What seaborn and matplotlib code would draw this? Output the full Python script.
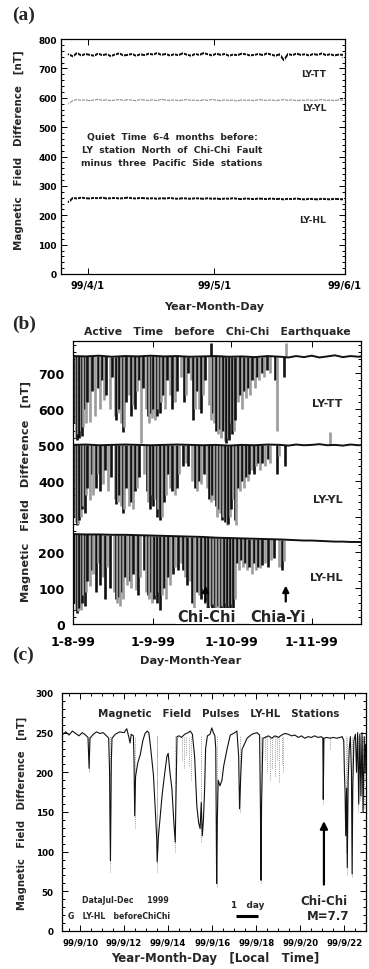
import numpy as np
import matplotlib
matplotlib.use("Agg")
import matplotlib.pyplot as plt
import seaborn as sns
from matplotlib.ticker import MultipleLocator, FixedLocator

# ---------------------------------------------------------------- data
# Panel (a): quiet time, daily samples, days relative to 1999-04-01
a_first_day = -4.5
a_tt = [748, 741, 752, 744, 749, 746, 743, 750, 745, 748,
        742, 747, 751, 744, 746, 749, 743, 748, 745, 750,
        747, 752, 746, 749, 744, 748, 745, 751, 747, 743,
        749, 746, 752, 748, 744, 750, 746, 749, 743, 747,
        745, 750, 748, 744, 746, 749, 745, 751, 747, 743,
        748, 728, 749, 745, 750, 746, 748, 744, 749, 746,
        751, 745, 748, 744, 747, 746]
a_yl = [580, 590, 594, 591, 593, 590, 592, 595, 591, 593,
        590, 592, 594, 591, 593, 592, 590, 594, 592, 591,
        593, 590, 595, 592, 591, 593, 590, 592, 594, 591,
        592, 590, 593, 591, 594, 592, 590, 593, 591, 592,
        589, 593, 591, 592, 590, 594, 592, 591, 593, 590,
        592, 594, 591, 593, 590, 592, 591, 593, 590, 592,
        594, 591, 592, 590, 593, 591]
a_hl = [245, 259, 257, 260, 258, 257, 259, 258, 260, 257,
        258, 259, 257, 258, 260, 258, 257, 259, 258, 257,
        258, 256, 258, 257, 259, 257, 256, 258, 257, 256,
        258, 257, 256, 258, 256, 257, 255, 257, 256, 258,
        256, 255, 257, 256, 255, 257, 256, 255, 257, 255,
        256, 254, 256, 255, 257, 255, 254, 256, 255, 254,
        256, 255, 254, 256, 255, 254]
a_tick_days = [0, 30, 61]
a_tick_labels = ["99/4/1", "99/5/1", "99/6/1"]
a_stations = ["LY-TT", "LY-YL", "LY-HL"]
a_note = ["Quiet  Time  6-4  months  before:",
          "LY  station  North  of  Chi-Chi  Fault",
          "minus  three  Pacific  Side  stations"]

# Panel (b): active time, days relative to 1999-08-01
b_base_days = [0, 5, 10, 15, 20, 25, 30, 35, 40, 45, 50, 55, 60, 65, 70, 75,
               80, 83, 86, 89, 92, 95, 98, 101, 104, 107, 110, 112]
b_tt_base = [748, 747, 749, 746, 748, 747, 749, 747, 748, 746, 747, 748, 746, 747,
             745, 748, 746, 744, 748, 745, 749, 744, 747, 750, 745, 748, 746, 748]
b_yl_base = [500, 501, 499, 500, 501, 500, 499, 500, 501, 500, 499, 500, 498, 500,
             499, 501, 500, 498, 501, 499, 500, 502, 499, 500, 498, 501, 499, 500]
b_hl_base = [251, 250, 250, 249, 249, 248, 247, 246, 245, 244, 243, 241, 240, 239,
             238, 237, 236, 235, 234, 233, 233, 232, 231, 230, 230, 229, 229, 228]
# pulses: (day, extreme value)
b_tt_pulses = [(0.6, 560), (1.0, 520), (1.5, 515), (2.0, 530), (2.5, 520), (3.0, 540),
               (3.5, 525), (4.0, 550), (4.5, 600), (5.0, 560), (5.5, 620), (6.5, 565),
               (7.5, 650), (8.5, 580), (9.5, 660), (10.3, 600), (11.2, 680), (12.0, 625),
               (12.8, 640), (14.2, 600), (15.0, 690), (16.0, 580), (16.6, 570), (17.2, 590),
               (17.8, 600), (18.5, 560), (19.2, 535), (19.8, 550), (20.5, 620), (21.5, 640),
               (22.2, 580), (23.0, 610), (23.8, 600), (24.8, 650), (25.5, 680), (26.3, 505),
               (27.0, 660), (28.2, 600), (28.8, 580), (29.4, 560), (30.0, 590), (30.5, 575),
               (31.0, 600), (31.6, 570), (32.2, 580), (32.8, 600), (33.4, 590), (34.0, 620),
               (34.8, 640), (35.6, 600), (36.3, 680), (37.5, 640), (38.3, 600), (39.2, 620),
               (40.0, 650), (41.5, 690), (42.7, 620), (43.5, 640), (44.5, 700), (45.5, 680),
               (46.3, 570), (47.0, 600), (47.8, 650), (48.6, 600), (49.3, 590), (50.0, 640),
               (51.0, 680), (52.5, 610), (53.0, 785), (53.2, 570), (53.8, 590), (54.5, 560),
               (55.3, 540), (56.0, 530), (56.6, 545), (57.2, 520), (57.8, 540), (58.4, 510),
               (59.0, 505), (59.6, 520), (60.2, 515), (60.8, 560), (61.4, 530), (62.0, 540),
               (62.6, 570), (63.5, 620), (64.5, 640), (65.3, 600), (66.0, 650), (66.8, 630),
               (67.5, 660), (68.3, 640), (69.0, 680), (70.0, 660), (70.8, 690), (71.8, 680),
               (72.8, 700), (73.8, 690), (74.8, 710), (75.8, 700), (78.0, 680), (78.8, 540),
               (81.5, 690), (82.0, 785)]
b_yl_pulses = [(0.6, 300), (1.0, 285), (1.5, 275), (2.0, 280), (2.5, 290), (3.0, 300),
               (3.5, 320), (4.0, 330), (4.5, 310), (5.0, 360), (5.5, 380), (6.5, 345),
               (7.2, 420), (7.8, 360), (9.0, 380), (9.8, 420), (10.5, 370), (11.6, 390),
               (12.5, 430), (13.5, 370), (14.5, 410), (16.0, 350), (16.6, 335), (17.2, 340),
               (17.8, 360), (18.5, 330), (19.2, 310), (19.8, 320), (20.5, 380), (21.5, 330),
               (22.2, 340), (23.0, 320), (23.8, 370), (24.6, 380), (25.5, 410), (27.5, 420),
               (28.4, 370), (29.0, 340), (29.7, 320), (30.3, 360), (31.0, 330), (31.6, 350),
               (32.2, 300), (32.8, 320), (33.6, 290), (34.2, 300), (35.0, 340), (35.8, 360),
               (36.5, 420), (37.5, 380), (38.3, 370), (39.2, 360), (40.1, 380), (41.0, 420),
               (42.5, 440), (43.4, 450), (44.5, 440), (46.0, 400), (47.0, 380), (47.8, 370),
               (48.6, 400), (49.4, 390), (50.4, 420), (51.5, 380), (52.3, 350), (53.0, 340),
               (53.7, 360), (54.4, 345), (55.0, 330), (55.6, 300), (56.2, 320), (56.8, 310),
               (57.4, 290), (58.0, 300), (58.6, 285), (59.2, 275), (59.8, 280), (60.4, 300),
               (61.0, 320), (61.6, 350), (62.3, 290), (62.8, 275), (63.5, 380), (64.3, 370),
               (65.0, 400), (65.8, 380), (66.6, 410), (67.3, 400), (68.0, 420), (68.8, 430),
               (69.6, 420), (70.4, 440), (71.2, 450), (72.0, 430), (73.0, 450), (74.0, 440),
               (75.0, 460), (76.0, 450), (78.5, 420), (79.5, 470), (81.8, 440), (99.0, 535)]
b_hl_pulses = [(0.5, 60), (1.0, 40), (1.5, 30), (2.0, 35), (2.5, 45), (3.0, 40),
               (3.5, 60), (4.0, 80), (4.5, 50), (5.0, 90), (5.5, 120), (6.5, 105),
               (7.2, 150), (7.8, 140), (8.8, 90), (9.8, 170), (10.5, 110), (11.4, 130),
               (12.2, 70), (13.0, 160), (14.2, 100), (15.8, 90), (16.4, 70), (17.0, 60),
               (17.6, 75), (18.2, 50), (18.8, 90), (19.4, 70), (20.2, 130), (21.0, 110),
               (21.8, 120), (22.5, 100), (23.3, 140), (24.3, 95), (25.0, 80), (25.8, 130),
               (27.2, 150), (28.2, 90), (28.8, 80), (29.4, 70), (30.0, 90), (30.6, 60),
               (31.2, 70), (31.8, 80), (32.4, 60), (33.0, 90), (33.6, 40), (34.2, 80),
               (35.0, 100), (35.8, 70), (36.5, 130), (37.5, 110), (38.5, 140), (39.5, 160),
               (40.5, 150), (41.5, 170), (42.5, 150), (43.2, 130), (44.0, 110), (45.0, 120),
               (46.0, 60), (46.8, 40), (47.6, 90), (48.4, 80), (49.2, 70), (50.0, 100),
               (51.0, 60), (51.6, 40), (52.2, 30), (52.8, 50), (53.4, 40), (54.0, 55),
               (54.6, 45), (55.2, 30), (55.8, 50), (56.4, 40), (57.0, 35), (57.6, 50),
               (58.2, 40), (58.8, 60), (59.4, 45), (60.0, 50), (60.6, 40), (61.2, 55),
               (61.8, 45), (62.4, 70), (63.2, 170), (64.0, 150), (64.8, 180), (65.6, 160),
               (66.4, 170), (67.2, 150), (68.0, 160), (68.8, 140), (69.6, 170), (70.4, 150),
               (71.2, 160), (72.0, 155), (73.0, 165), (74.0, 170), (75.0, 160), (76.5, 180),
               (77.5, 185), (79.5, 160), (80.5, 150), (81.2, 175)]
b_tick_days = [0, 31, 61, 92]
b_tick_labels = ["1-8-99", "1-9-99", "1-10-99", "1-11-99"]
b_events = ["Chi-Chi", "Chia-Yi"]
b_event_days = [51.07, 82.0]
b_stations = ["LY-TT", "LY-YL", "LY-HL"]

# Panel (c): LY-HL pulses, days relative to 1999-09-09 00:00 local time
c_trace = [(0.22, 248), (0.35, 251), (0.5, 247), (0.65, 252), (0.8, 249), (0.95, 246),
           (1.1, 250), (1.25, 247), (1.36, 244), (1.41, 205), (1.45, 243), (1.6, 248),
           (1.75, 251), (1.9, 249), (2.05, 250), (2.2, 246), (2.3, 243), (2.34, 200),
           (2.36, 130), (2.38, 89), (2.40, 150), (2.42, 215), (2.45, 243), (2.6, 248),
           (2.8, 251), (3.0, 250), (3.12, 255), (3.2, 246), (3.27, 237), (3.32, 248),
           (3.42, 246), (3.45, 215), (3.48, 145), (3.52, 195), (3.62, 212), (3.73, 222),
           (3.85, 240), (3.95, 249), (4.05, 252), (4.12, 250), (4.18, 237), (4.33, 197),
           (4.42, 150), (4.48, 116), (4.5, 87), (4.56, 120), (4.64, 145), (4.72, 170),
           (4.79, 187), (4.87, 205), (4.94, 220), (5.0, 224), (5.08, 200), (5.17, 179),
           (5.25, 140), (5.32, 112), (5.36, 180), (5.4, 245), (5.5, 246), (5.6, 244),
           (5.75, 248), (5.9, 250), (6.0, 252), (6.1, 248), (6.2, 220), (6.3, 158),
           (6.38, 137), (6.45, 129), (6.5, 162), (6.55, 120), (6.6, 140), (6.65, 175),
           (6.7, 230), (6.78, 246), (6.9, 248), (6.98, 256), (7.05, 250), (7.12, 246),
           (7.16, 230), (7.18, 150), (7.2, 60), (7.23, 140), (7.27, 190), (7.35, 183),
           (7.44, 190), (7.52, 208), (7.67, 229), (7.82, 247), (7.97, 249), (8.12, 252),
           (8.2, 220), (8.24, 154), (8.3, 200), (8.35, 229), (8.42, 233), (8.58, 243),
           (8.8, 248), (9.03, 250), (9.15, 247), (9.19, 150), (9.21, 64), (9.24, 160),
           (9.3, 243), (9.4, 244), (9.55, 246), (9.7, 243), (9.85, 246), (10.0, 244),
           (10.15, 247), (10.3, 249), (10.45, 248), (10.6, 246), (10.75, 247), (10.9, 244),
           (11.05, 246), (11.2, 243), (11.35, 245), (11.5, 244), (11.65, 246), (11.8, 244),
           (11.95, 245), (12.02, 243), (12.04, 166), (12.07, 243), (12.2, 244), (12.35, 243),
           (12.5, 244), (12.65, 243), (12.8, 244), (12.9, 245), (12.97, 240), (13.0, 200),
           (13.03, 175), (13.06, 120), (13.1, 180), (13.13, 80), (13.17, 190), (13.22, 230),
           (13.27, 245), (13.32, 200), (13.35, 72), (13.38, 180), (13.43, 240), (13.5, 248),
           (13.55, 200), (13.6, 250), (13.65, 160), (13.7, 248), (13.75, 170), (13.8, 250),
           (13.85, 150), (13.9, 245), (13.94, 200), (13.96, 235)]
c_quiet_level = 246
c_pulses = [(1.41, 200), (2.38, 75), (3.48, 130), (4.47, 100), (4.5, 75), (5.32, 100),
            (5.62, 215), (5.72, 205), (5.82, 222), (5.95, 208), (6.05, 190), (6.48, 112),
            (7.2, 55), (8.24, 150), (9.21, 60), (9.4, 215), (9.5, 200), (9.6, 190),
            (9.72, 205), (9.85, 195), (9.95, 215), (10.05, 188), (10.15, 210), (10.22, 200),
            (12.04, 160), (12.35, 230), (13.06, 100), (13.13, 70), (13.35, 68), (13.62, 150),
            (13.72, 165), (13.82, 150), (13.88, 155), (13.93, 190)]
c_tick_days = [1, 3, 5, 7, 9, 11, 13]
c_tick_labels = ["99/9/10", "99/9/12", "99/9/14", "99/9/16", "99/9/18", "99/9/20", "99/9/22"]
c_quake_day = 12.07

# ---------------------------------------------------------------- style
sns.set_theme(style="ticks")
plt.rcParams["font.family"] = ["DejaVu Sans"]
plt.rcParams["font.weight"] = "bold"
plt.rcParams["axes.linewidth"] = 0.9
plt.rcParams["axes.edgecolor"] = "black"

W, H = 369, 970
fig = plt.figure(figsize=(W / 100, H / 100), dpi=100)
fig.patch.set_facecolor("white")


def add_axes(left, top, right, bottom):
    return fig.add_axes([left / W, 1 - bottom / H, (right - left) / W, (bottom - top) / H])


def style_ticks(ax, size):
    ax.tick_params(which="both", direction="in", top=True, right=True,
                   colors="black", width=0.7, labelsize=size)
    ax.tick_params(which="major", length=4)
    ax.tick_params(which="minor", length=2)
    for s in ax.spines.values():
        s.set_color("black")
        s.set_linewidth(0.9)
    for lab in ax.get_xticklabels() + ax.get_yticklabels():
        lab.set_fontweight("bold")


GREY = "#9c9c9c"
DARK = "#111111"

# ---------------------------------------------------------------- panel (a)
ax = add_axes(61, 40, 345, 275)
a_days = a_first_day + np.arange(len(a_tt))
sns.lineplot(x=a_days, y=a_tt, ax=ax, color=DARK, lw=1.4, estimator=None,
             marker="|", markersize=5, markeredgewidth=0.7)
sns.lineplot(x=a_days, y=a_yl, ax=ax, color="#9a9a9a", lw=0.9, estimator=None,
             marker="|", markersize=4, markeredgewidth=0.6)
sns.lineplot(x=a_days, y=a_hl, ax=ax, color=DARK, lw=1.4, estimator=None,
             marker="|", markersize=4, markeredgewidth=0.7)
ax.set_xlim(-6.3, 61)
ax.set_ylim(0, 800)
ax.xaxis.set_major_locator(FixedLocator(a_tick_days))
ax.set_xticklabels(a_tick_labels)
ax.yaxis.set_major_locator(MultipleLocator(100))
ax.yaxis.set_minor_locator(MultipleLocator(20))
style_ticks(ax, 7)
ax.tick_params(axis="y", labelsize=6.5, pad=3)
ax.tick_params(axis="x", pad=4)
ax.set_xlabel("Year-Month-Day", fontsize=8, fontweight="bold")
ax.xaxis.set_label_coords(0.54, -0.115)
ax.set_ylabel("Magnetic   Field   Difference   [nT]", fontsize=7.4, fontweight="bold")
ax.yaxis.set_label_coords(-0.13, 0.53)
for name, yv in zip(a_stations, [683, 566, 186]):
    ax.text(56.5, yv, name, ha="right", va="center", fontsize=6.6, fontweight="bold")
ax.text(20, 425, "\n".join(a_note), ha="center", va="center", fontsize=6.6,
        fontweight="bold", linespacing=1.55)
fig.text(12 / W, 1 - 7 / H, "(a)", ha="left", va="top", fontsize=14,
         family="Liberation Serif", fontweight="bold")

# ---------------------------------------------------------------- panel (b)
ax = add_axes(73, 342, 361, 625)
for base, pulses in [(b_tt_base, b_tt_pulses), (b_yl_base, b_yl_pulses),
                     (b_hl_base, b_hl_pulses)]:
    pd_days = np.array([p[0] for p in pulses])
    pd_ext = np.array([p[1] for p in pulses])
    tops = np.interp(pd_days, b_base_days, base)
    cols = [DARK if i % 2 == 0 else GREY for i in range(len(pd_days))]
    ax.vlines(pd_days, pd_ext, tops, colors=cols, lw=1.9)
    sns.lineplot(x=b_base_days, y=base, ax=ax, color=DARK, lw=1.4, estimator=None)
ax.set_xlim(0, 111)
ax.set_ylim(0, 790)
ax.xaxis.set_major_locator(FixedLocator(b_tick_days))
ax.set_xticklabels(b_tick_labels)
ax.yaxis.set_major_locator(MultipleLocator(100))
ax.yaxis.set_minor_locator(MultipleLocator(20))
style_ticks(ax, 9)
ax.tick_params(axis="y", pad=6)
ax.tick_params(axis="x", pad=8)
ax.set_yticks([0, 100, 200, 300, 400, 500, 600, 700])
ax.set_title("Active   Time   before   Chi-Chi   Earthquake", fontsize=7.8,
             fontweight="bold", pad=5)
ax.set_xlabel("Day-Month-Year", fontsize=8.2, fontweight="bold")
ax.xaxis.set_label_coords(0.41, -0.11)
ax.set_ylabel("Magnetic   Field   Difference   [nT]", fontsize=8.2, fontweight="bold")
ax.yaxis.set_label_coords(-0.145, 0.47)
for name, yv in zip(b_stations, [616, 350, 132]):
    ax.text(104, yv, name, ha="right", va="center", fontsize=8, fontweight="bold")
for name, d, tx in zip(b_events, b_event_days, [51.4, 79.0]):
    ax.annotate("", xy=(d, 115), xytext=(d, 55),
                arrowprops=dict(arrowstyle="-|>", color="black", lw=1.6, mutation_scale=9))
    ax.text(tx, 1, name, ha="center", va="bottom", fontsize=10.5, fontweight="bold",
            bbox=dict(boxstyle="square,pad=0.05", fc="white", ec="none"))
for lab in ax.get_yticklabels():
    lab.set_fontweight("bold")
fig.text(12 / W, 1 - 316 / H, "(b)", ha="left", va="top", fontsize=14,
         family="Liberation Serif", fontweight="bold")

# ---------------------------------------------------------------- panel (c)
ax = add_axes(62, 694, 366, 932)
cp_t = np.array([p[0] for p in c_pulses])
cp_v = np.array([p[1] for p in c_pulses])
ax.vlines(cp_t, cp_v, c_quiet_level, colors="#9a9a9a", lw=0.7, linestyles=(0, (1, 1.2)))
ct = [p[0] for p in c_trace]
cv = [p[1] for p in c_trace]
sns.lineplot(x=ct, y=cv, ax=ax, color=DARK, lw=0.8, estimator=None, sort=False)
ax.set_xlim(0.18, 13.98)
ax.set_ylim(0, 300)
ax.xaxis.set_major_locator(FixedLocator(c_tick_days))
ax.xaxis.set_minor_locator(MultipleLocator(0.5))
ax.set_xticklabels(c_tick_labels)
ax.yaxis.set_major_locator(MultipleLocator(50))
ax.yaxis.set_minor_locator(MultipleLocator(10))
style_ticks(ax, 6.3)
ax.tick_params(axis="y", pad=6)
ax.tick_params(axis="x", pad=5, labelsize=6.2)
ax.set_xlabel("Year-Month-Day   [Local   Time]", fontsize=8.5, fontweight="bold")
ax.xaxis.set_label_coords(0.505, -0.085)
ax.set_ylabel("Magnetic   Field   Difference   [nT]", fontsize=7.2, fontweight="bold")
ax.yaxis.set_label_coords(-0.115, 0.5)
ax.text(7.3, 275, "Magnetic   Field   Pulses   LY-HL   Stations", ha="center",
        va="center", fontsize=7.4, fontweight="bold")
ax.text(1.1, 40, "DataJul-Dec     1999", ha="left", va="center", fontsize=5.6,
        fontweight="bold")
ax.text(0.45, 20, "G   LY-HL   beforeChiChi", ha="left", va="center", fontsize=5.6,
        fontweight="bold")
ax.text(8.62, 33, "1   day", ha="center", va="center", fontsize=6.4, fontweight="bold")
ax.plot([8.1, 9.1], [19, 19], color="black", lw=2.2, solid_capstyle="butt")
ax.annotate("", xy=(c_quake_day, 142), xytext=(c_quake_day, 55),
            arrowprops=dict(arrowstyle="-|>", color="black", lw=1.6, mutation_scale=11))
ax.text(12.05, 39, "Chi-Chi", ha="center", va="center", fontsize=8.5, fontweight="bold")
ax.text(12.25, 19, "M=7.7", ha="center", va="center", fontsize=8.5, fontweight="bold")
fig.text(12 / W, 1 - 647 / H, "(c)", ha="left", va="top", fontsize=14,
         family="Liberation Serif", fontweight="bold")

fig.savefig("out.png", dpi=100, facecolor="white")
